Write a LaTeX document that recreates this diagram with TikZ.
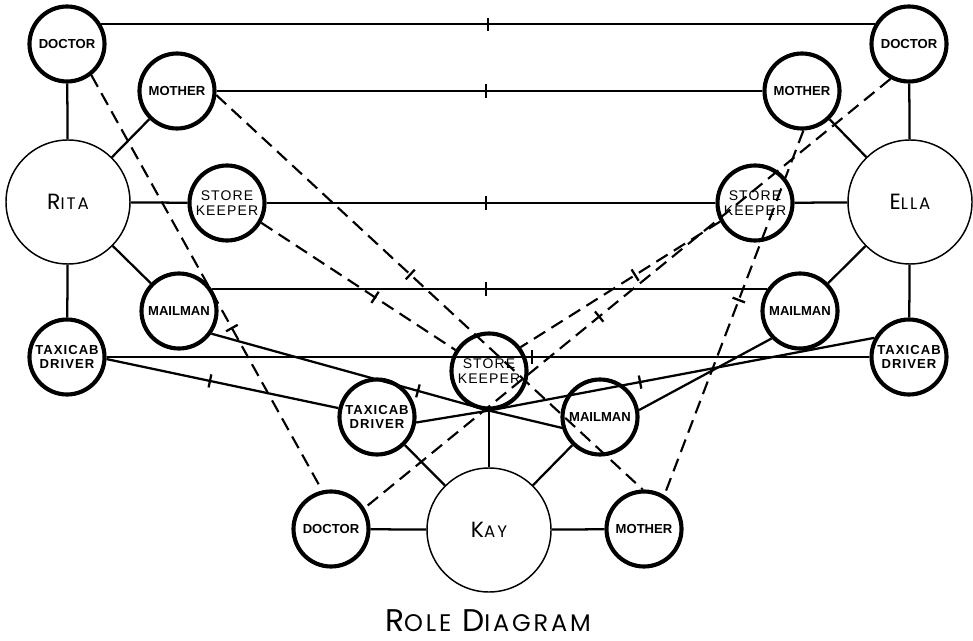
\documentclass[tikz,border=0pt]{standalone}
\usepackage{fontspec}
\setmainfont{Liberation Sans}
\newfontfamily\namefont[LetterSpace=12]{Poppins}
\newfontfamily\spacedfont[LetterSpace=8]{Liberation Sans}
\usetikzlibrary{decorations.markings}
\newcommand\pname[2]{{\fontsize{16.5}{16.5}\selectfont #1}{\fontsize{12.5}{12.5}\selectfont #2}}
\newcommand\tname[2]{{\fontsize{23.5}{23.5}\selectfont #1}{\fontsize{18}{18}\selectfont #2}}
\begin{document}
\begin{tikzpicture}[x=0.75pt,y=-0.75pt,
  role/.style={circle, draw, line width=3.1pt, minimum size=56.25pt, inner sep=0pt, align=center, font=\bfseries\fontsize{9.8}{11}\selectfont},
  storebox/.style={role, font=\spacedfont\fontsize{10.5}{11.2}\selectfont},
  taxibox/.style={role, font=\spacedfont\bfseries\fontsize{9.8}{11}\selectfont},
  person/.style={circle, draw, line width=1.1pt, minimum size=93pt, inner sep=0pt, font=\namefont},
  link/.style={line width=1.7pt},
  dlink/.style={line width=1.6pt, dash pattern=on 10pt off 5.5pt},
  tickat/.style={postaction={decorate, decoration={markings, mark=at position #1 with {\draw[solid, line width=1.7pt] (0,-5pt) -- (0,5pt);}}}}
]
\useasboundingbox (0,0) rectangle (973,641);
% persons
\node[person] (Rita) at (68,202) {\pname{R}{ITA}};
\node[person] (Ella) at (910,202) {\pname{E}{LLA}};
\node[person] (Kay) at (489,530) {\pname{K}{AY}};
% Rita's roles
\node[role] (RD) at (67,44) {DOCTOR};
\node[role] (RMo) at (177,91) {MOTHER};
\node[storebox] (RS) at (227,203) {STORE\\KEEPER};
\node[role] (RMa) at (179,311) {MAILMAN};
\node[taxibox] (RT) at (67,357) {TAXICAB\\DRIVER};
% Ella's roles
\node[role] (ED) at (909,44) {DOCTOR};
\node[role] (EMo) at (802,91) {MOTHER};
\node[storebox] (ES) at (755,203) {STORE\\KEEPER};
\node[role] (EMa) at (800,311) {MAILMAN};
\node[taxibox] (ET) at (909,357) {TAXICAB\\DRIVER};
% Kay's roles
\node[storebox] (KS) at (489,371) {STORE\\KEEPER};
\node[taxibox] (KT) at (377,417) {TAXICAB\\DRIVER};
\node[role] (KMa) at (600,417) {MAILMAN};
\node[role] (KD) at (331,529) {DOCTOR};
\node[role] (KMo) at (644,529) {MOTHER};
% spokes
\foreach \p/\r in {Rita/RD, Rita/RMo, Rita/RS, Rita/RMa, Rita/RT,
                   Ella/ED, Ella/EMo, Ella/ES, Ella/EMa, Ella/ET,
                   Kay/KT, Kay/KS, Kay/KMa, Kay/KD, Kay/KMo}
  \draw[link] (\p) -- (\r);
% horizontal links
\draw[link, tickat=0.5] (RD.30) -- (ED.150);
\draw[link, tickat=0.494] (RMo) -- (EMo);
\draw[link, tickat=0.489] (RS) -- (ES);
\draw[link, tickat=0.494] (RMa.34) -- (EMa.146);
\draw[link, tickat=0.558] (RT) -- (ET);
% solid cross links
\draw[link, tickat=0.446] (RT.-3) -- (KT.167);
\draw[link, tickat=0.744] (RMa.-35) -- (KS.south);
\draw[link] (KS.south) -- (KMa.196);
\draw[link] (KT.-8) -- (KS.south);
\draw[link, tickat=0.392] (KS.south) -- (ET.151);
\draw[link] (EMa.224) -- (KMa.10);
% dashed links
\draw[dlink, tickat=0.609] (RD.-52) -- (KD.103);
\draw[dlink, tickat=0.455] (RMo.-6) -- (KMo.92);
\draw[dlink, tickat=0.586] (RS.-30) -- (KS.148);
\draw[dlink, tickat=0.554] (ED.242) -- (KD.32);
\draw[dlink, tickat=0.426] (ES.208) -- (KS.37);
\draw[dlink, tickat=0.465] (EMo.-88) -- (KMo.59);
% title
\node[font=\namefont] (title) at (488,621) {\tname{R}{OLE}\hspace{0.8em}\tname{D}{IAGRAM}};
\end{tikzpicture}
\end{document}
